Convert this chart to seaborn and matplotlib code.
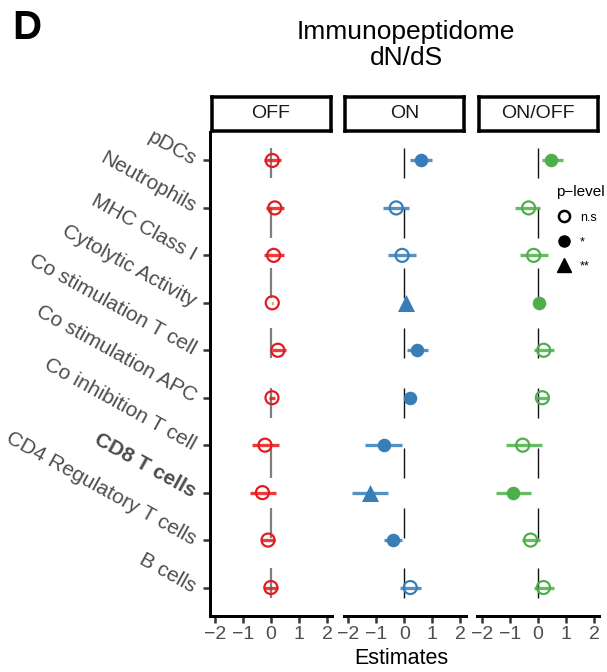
import numpy as np
import pandas as pd
import matplotlib
matplotlib.use("Agg")
import matplotlib.pyplot as plt
from matplotlib.lines import Line2D
import seaborn as sns

# data (estimates with lower / upper bounds)
categories = ["pDCs", "Neutrophils", "MHC Class I", "Cytolytic Activity",
              "Co stimulation T cell", "Co stimulation APC", "Co inhibition T cell",
              "CD8 T cells", "CD4 Regulatory T cells", "B cells"]
panels = ["OFF", "ON", "ON/OFF"]
panel_colors = ["#E41A1C", "#377EB8", "#4DAF4A"]

off_est = [0.05, 0.14, 0.10, 0.05, 0.25, 0.04, -0.21, -0.30, -0.10, 0.00]
off_lo = [-0.25, -0.18, -0.25, 0.03, 0.03, -0.08, -0.68, -0.75, -0.36, -0.25]
off_hi = [0.35, 0.46, 0.46, 0.07, 0.53, 0.16, 0.29, 0.20, 0.14, 0.25]
off_p = ["n.s", "n.s", "n.s", "n.s", "n.s", "n.s", "n.s", "n.s", "n.s", "n.s"]

on_est = [0.60, -0.29, -0.08, 0.07, 0.46, 0.21, -0.74, -1.21, -0.40, 0.21]
on_lo = [0.21, -0.75, -0.60, 0.03, 0.10, 0.12, -1.39, -1.86, -0.71, -0.14]
on_hi = [1.00, 0.18, 0.43, 0.11, 0.86, 0.30, -0.07, -0.57, -0.07, 0.61]
on_p = ["*", "n.s", "n.s", "**", "*", "*", "*", "**", "*", "n.s"]

onoff_est = [0.48, -0.33, -0.15, 0.04, 0.21, 0.16, -0.54, -0.90, -0.26, 0.20]
onoff_lo = [0.16, -0.80, -0.65, 0.00, -0.12, -0.08, -1.15, -1.48, -0.56, -0.12]
onoff_hi = [0.88, 0.06, 0.35, 0.08, 0.56, 0.38, 0.13, -0.26, 0.09, 0.56]
onoff_p = ["*", "n.s", "n.s", "*", "n.s", "n.s", "n.s", "*", "n.s", "n.s"]

xticks = [-2, -1, 0, 1, 2]

frames = []
for name, est, lo, hi, p in [("OFF", off_est, off_lo, off_hi, off_p),
                             ("ON", on_est, on_lo, on_hi, on_p),
                             ("ON/OFF", onoff_est, onoff_lo, onoff_hi, onoff_p)]:
    frames.append(pd.DataFrame({"panel": name, "category": categories,
                                "y": np.arange(len(categories)),
                                "est": est, "lo": lo, "hi": hi, "p": p}))
df = pd.concat(frames, ignore_index=True)

sns.set_theme(style="white")
plt.rcParams["font.family"] = ["Liberation Sans", "DejaVu Sans"]
plt.rcParams["text.color"] = "black"
plt.rcParams["lines.scale_dashes"] = False

W, H = 607, 672
fig = plt.figure(figsize=(W / 100, H / 100), dpi=100)

px = lambda v: v * 72 / 100  # pixels -> points

panel_x = [(210, 332), (343.5, 465.5), (477, 599)]
top, bottom = 132, 616
grey30 = "#4D4D4D"

for i, (name, color) in enumerate(zip(panels, panel_colors)):
    x0, x1 = panel_x[i]
    ax = fig.add_axes([x0 / W, 1 - bottom / H, (x1 - x0) / W, (bottom - top) / H])
    sub = df[df["panel"] == name]

    # dashed zero line
    vcol = "#7F7F7F" if i == 0 else "#111111"
    vlw = 1.6 if i == 0 else 1.0
    ax.plot([0, 0], [-0.6, 9.6], color=vcol, lw=vlw,
            linestyle=(px(44), (px(30), px(30))), zorder=1)

    # error bars
    ax.hlines(sub["y"], sub["lo"], sub["hi"], color=color, lw=px(3.3),
              alpha=0.85, zorder=2)

    # points by p-level
    ns = sub[sub["p"] == "n.s"]
    ax.scatter(ns["est"], ns["y"], s=88, marker="o", facecolors="none",
               edgecolors=color, linewidths=px(2.2), zorder=3)
    one = sub[sub["p"] == "*"]
    if len(one):
        sns.scatterplot(data=one, x="est", y="y", marker="o", s=95, color=color,
                        linewidth=0, ax=ax, zorder=3, legend=False)
    two = sub[sub["p"] == "**"]
    if len(two):
        sns.scatterplot(data=two, x="est", y="y", marker="^", s=150, color=color,
                        linewidth=0, ax=ax, zorder=3, legend=False)

    ax.set_xlim(-2.17, 2.18)
    ax.set_ylim(9.6, -0.6)
    ax.set_xlabel("")
    ax.set_ylabel("")
    ax.set_xticks(xticks)
    ax.set_xticklabels([str(t).replace("-", "\u2212") for t in xticks],
                       fontsize=14, color=grey30)
    for s in ["top", "right"]:
        ax.spines[s].set_visible(False)
    ax.spines["bottom"].set_linewidth(px(3))
    ax.spines["bottom"].set_color("black")
    ax.tick_params(axis="x", length=5, width=px(2.5), color="#333333", pad=2,
                   bottom=True)
    if i == 0:
        ax.spines["left"].set_linewidth(px(3))
        ax.spines["left"].set_color("black")
        ax.set_yticks(range(len(categories)))
        ax.set_yticklabels(categories, rotation=-29, ha="right", va="center",
                           rotation_mode="anchor", fontsize=15, color=grey30)
        ax.get_yticklabels()[7].set_fontweight("bold")
        ax.tick_params(axis="y", length=5, width=px(2.5), color="#333333",
                       pad=6, left=True)
    else:
        ax.spines["left"].set_visible(False)
        ax.set_yticks([])

    # strip header
    sax = fig.add_axes([(x0 + 1.5) / W, 1 - 131 / H, (x1 - x0 - 3) / W, 34 / H])
    sax.set_xticks([])
    sax.set_yticks([])
    for s in sax.spines.values():
        s.set_linewidth(px(3.5))
        s.set_color("black")
    sax.text(0.5, 0.5, name, ha="center", va="center", fontsize=14,
             color="#1A1A1A", transform=sax.transAxes)

fig.text(406 / W, 1 - 45 / H, "Immunopeptidome\ndN/dS", ha="center",
         va="center", fontsize=19, linespacing=1.08)
fig.text(401 / W, 1 - 659 / H, "Estimates", ha="center", va="center",
         fontsize=15.5)
fig.text(12 / W, 1 - 28 / H, "D", ha="left", va="center", fontsize=29,
         fontweight="bold")

handles = [Line2D([], [], marker="o", ls="", mfc="none", mec="black", mew=1.8, ms=8),
           Line2D([], [], marker="o", ls="", color="black", ms=8),
           Line2D([], [], marker="^", ls="", color="black", ms=10)]
fig.legend(handles, ["n.s", "*", "**"], title="p\u2212level",
           loc="upper left", bbox_to_anchor=(545 / W, 1 - 174 / H),
           frameon=False, fontsize=9, title_fontsize=11, alignment="left",
           handletextpad=0.7, labelspacing=1.0, handlelength=1.2)

fig.savefig("out.png", dpi=100)
